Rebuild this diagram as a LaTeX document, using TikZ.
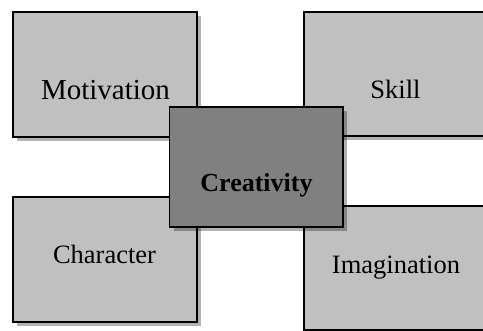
\documentclass[tikz,border=0pt]{standalone}
\usepackage{fontspec}
\setmainfont{Liberation Serif}
\usetikzlibrary{shadows}
\tikzset{
  box/.style={draw=black, line width=1.9pt, fill=lightbox, inner sep=0pt,
    drop shadow={shadow xshift=4pt, shadow yshift=-4pt, fill=black, opacity=0.3}},
  centerbox/.style={box, fill=darkbox},
  lbl/.style={anchor=base, inner sep=0pt, font=\fontsize{26.5}{30}\selectfont},
}
\definecolor{lightbox}{HTML}{C0C0C0}
\definecolor{darkbox}{HTML}{808080}
\begin{document}
\begin{tikzpicture}[x=1pt, y=-1pt]
\useasboundingbox (0,0) rectangle (483,331);
\node[box, minimum width=184pt, minimum height=125pt] (mot) at (105,74.5) {};
\node[box, minimum width=184pt, minimum height=124pt] (skill) at (396,74) {};
\node[box, minimum width=184pt, minimum height=125pt] (char) at (105,259.5) {};
\node[box, minimum width=184pt, minimum height=124pt] (imag) at (396,268) {};
\node[centerbox, minimum width=173.5pt, minimum height=120pt] (crea) at (256.25,167) {};
\node[lbl, font=\fontsize{29}{32}\selectfont] (tmot) at (105.5,100) {Motivation};
\node[lbl] (tskill) at (395.5,99) {Skill};
\node[lbl] (tchar) at (104.5,264) {Character};
\node[lbl] (timag) at (396,274) {Imagination};
\node[lbl, font=\fontsize{26}{30}\selectfont\bfseries] (tcrea) at (256.5,192) {Creativity};
\end{tikzpicture}
\end{document}
